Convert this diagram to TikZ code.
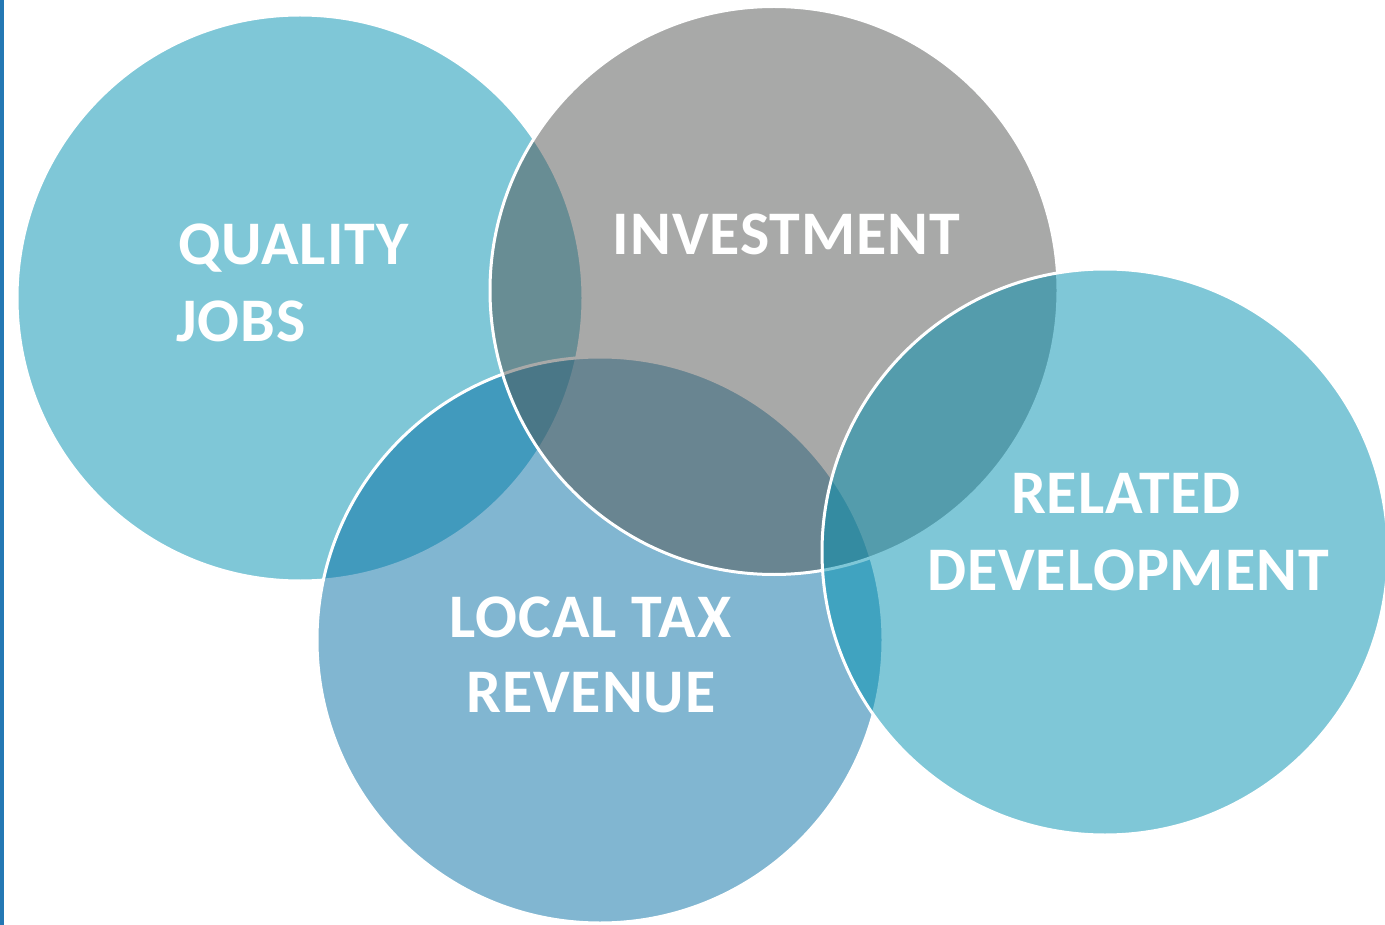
\documentclass[tikz,border=0pt]{standalone}
\usepackage{fontspec}
\setmainfont{Carlito}
\definecolor{tealfill}{RGB}{1,145,177}
\definecolor{taxfill}{RGB}{5,111,165}
\definecolor{greyfill}{RGB}{83,85,83}
\definecolor{edgeblue}{RGB}{36,120,180}
\begin{document}
\begin{tikzpicture}[x=1pt,y=-1pt,
  disc/.style={circle, draw=white, line width=3pt, fill opacity=0.5, draw opacity=1,
    minimum size=566pt, inner sep=0pt, outer sep=0pt},
  lbl/.style={text=white, inner sep=0pt,
    font=\bfseries\fontsize{62}{77}\selectfont\addfontfeatures{LetterSpace=1.5}}]
  % canvas
  \fill[white] (0,0) rectangle (1385,925);
  \useasboundingbox (0,0) rectangle (1385,925);
  % thin rule along the left margin
  \fill[edgeblue] (0,0) rectangle (3.5,925);
  % overlapping discs, drawn back to front
  \node[disc, fill=tealfill] (jobs) at (300,298) {};
  \node[disc, fill=taxfill] (tax) at (600,640) {};
  \node[disc, fill=greyfill, minimum size=568pt] (invest) at (774,290.5) {};
  \node[disc, fill=tealfill] (related) at (1105,552) {};
  % labels
  \node[lbl, anchor=base west] (jobs1) at (178,265) {QUALITY};
  \node[lbl, anchor=base west] (jobs2) at (176,342) {JOBS};
  \node[lbl, anchor=base] (invest1) at (786.5,255) {INVESTMENT};
  \node[lbl, anchor=base] (tax1) at (590.5,637) {LOCAL TAX};
  \node[lbl, anchor=base] (tax2) at (591,712) {REVENUE};
  \node[lbl, anchor=base] (related1) at (1126,513) {RELATED};
  \node[lbl, anchor=base] (related2) at (1128,590) {DEVELOPMENT};
\end{tikzpicture}
\end{document}
